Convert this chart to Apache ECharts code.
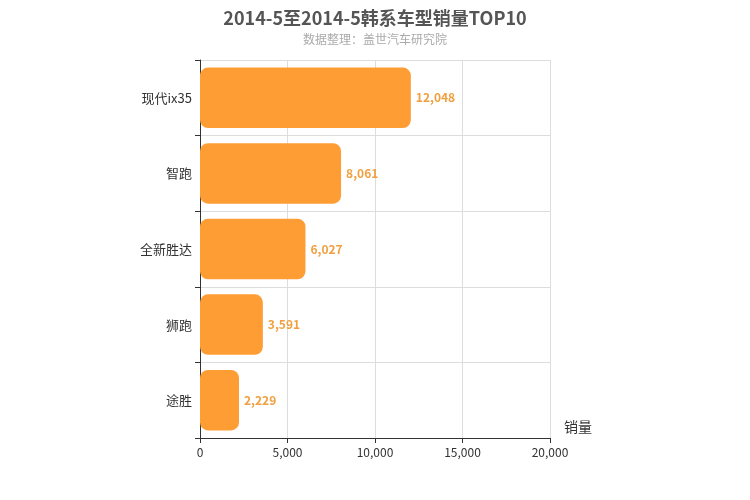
<!DOCTYPE html>
<html lang="zh">
<head>
  <meta charset="UTF-8">
  <title>韩系车型销量TOP10</title>
  <script src="https://cdn.jsdelivr.net/npm/echarts@6/dist/echarts.min.js"></script>
  <style>html,body{margin:0;padding:0;}#chart{width:750px;height:500px;}</style>
</head>
<body>
  <div id="chart"></div>
  <script>
    // 数据（从上到下）
    var models = ['现代ix35', '智跑', '全新胜达', '狮跑', '途胜'];
    var sales = [12048, 8061, 6027, 3591, 2229];

    var chart = echarts.init(document.getElementById('chart'));
    chart.setOption({
      textStyle: { fontFamily: 'Noto Sans CJK SC' },
      title: {
        text: '2014-5至2014-5韩系车型销量TOP10',
        subtext: '数据整理：盖世汽车研究院',
        left: 'center',
        top: 4,
        itemGap: 6,
        textStyle: { fontSize: 18, fontWeight: 'bold', color: '#555' },
        subtextStyle: { fontSize: 12, color: '#aaa' }
      },
      grid: { left: 200, right: 200, top: 60, bottom: 62 },
      xAxis: {
        type: 'value',
        min: 0, max: 20000, interval: 5000,
        name: '销量',
        nameGap: 14,
        nameTextStyle: { fontSize: 14, color: '#333', verticalAlign: 'top', padding: [-18, 0, 0, 0] },
        axisLine: { show: true, lineStyle: { color: '#333' } },
        axisTick: { show: true },
        axisLabel: { color: '#333', fontSize: 12 },
        splitLine: { lineStyle: { color: '#ddd' } }
      },
      yAxis: {
        type: 'category',
        data: models,
        inverse: true,
        axisLine: { lineStyle: { color: '#333' } },
        axisTick: { show: true },
        axisLabel: { color: '#333', fontSize: 13 },
        splitLine: { show: true, lineStyle: { color: '#ddd' } }
      },
      series: [{
        type: 'bar',
        data: sales,
        barWidth: '80%',
        itemStyle: { color: '#ff9d35', borderRadius: 8 },
        label: {
          show: true, position: 'right', color: '#f0a040', fontSize: 12, fontWeight: 'bold',
          formatter: function (p) { return p.value.toLocaleString('en-US'); }
        }
      }]
    });
  </script>
</body>
</html>
